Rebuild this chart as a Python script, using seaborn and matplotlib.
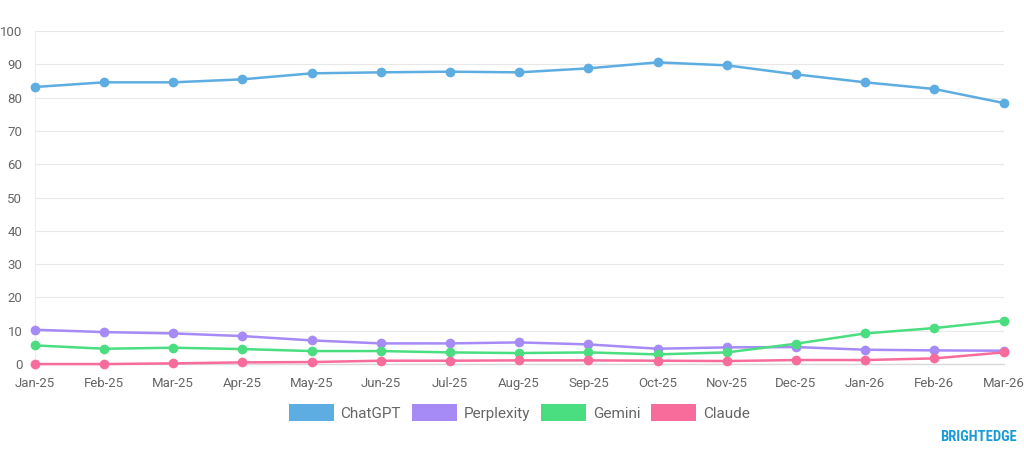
import seaborn as sns
import matplotlib.pyplot as plt
import pandas as pd
from matplotlib.patches import Patch

months = ['Jan-25', 'Feb-25', 'Mar-25', 'Apr-25', 'May-25', 'Jun-25', 'Jul-25', 'Aug-25',
          'Sep-25', 'Oct-25', 'Nov-25', 'Dec-25', 'Jan-26', 'Feb-26', 'Mar-26']
chatgpt = [83.2, 84.6, 84.6, 85.5, 87.3, 87.6, 87.8, 87.6, 88.8, 90.6, 89.7, 87.0, 84.6, 82.6, 78.4]
perplexity = [10.3, 9.6, 9.2, 8.4, 7.1, 6.2, 6.2, 6.5, 5.9, 4.6, 5.0, 5.1, 4.3, 4.1, 4.0]
gemini = [5.6, 4.6, 4.9, 4.5, 3.9, 3.9, 3.5, 3.3, 3.5, 2.9, 3.5, 6.1, 9.2, 10.8, 13.0]
claude = [0.0, 0.0, 0.2, 0.5, 0.6, 1.0, 1.0, 1.1, 1.1, 1.0, 0.9, 1.2, 1.2, 1.7, 3.5]

series = ['ChatGPT', 'Perplexity', 'Gemini', 'Claude']
colors = ['#5DADE2', '#A68AF6', '#4ADE80', '#F76C9A']

df = pd.DataFrame({'month': months * 4,
                   'value': chatgpt + perplexity + gemini + claude,
                   'model': [s for s in series for _ in months]})

sns.set_style('white')
plt.rcParams['font.family'] = ['Roboto', 'DejaVu Sans']

fig = plt.figure(figsize=(10.24, 4.5), dpi=100)
ax = fig.add_axes([0.034, 0.191, 0.946, 0.74])

sns.lineplot(data=df, x='month', y='value', hue='model', palette=colors,
             marker='o', markersize=7, markeredgewidth=0, linewidth=1.8,
             legend=False, ax=ax, clip_on=False, zorder=3)

ax.set_xlim(0, 14)
ax.set_ylim(0, 100)
ax.set_yticks(range(0, 101, 10))
ax.set_xlabel('')
ax.set_ylabel('')
ax.grid(axis='y', color='#e8e8e8', linewidth=0.8)
ax.grid(axis='x', visible=False)
for s in ['top', 'right']:
    ax.spines[s].set_visible(False)
ax.spines['left'].set_color('#ececf4')
ax.spines['left'].set_linewidth(0.8)
ax.spines['bottom'].set_color('#d8d8d8')
ax.spines['bottom'].set_linewidth(1)
ax.tick_params(axis='y', length=6, color='#e8e8e8', labelsize=9.5, labelcolor='#666666', pad=3)
ax.tick_params(axis='x', length=0, labelsize=9.5, labelcolor='#666666', pad=9)

handles = [Patch(facecolor=c, edgecolor='none') for c in colors]
ax.legend(handles, series, loc='upper center', bbox_to_anchor=(0.5, -0.08), ncol=4,
          frameon=False, fontsize=11, handlelength=2.95, handleheight=1.3,
          handletextpad=0.45, columnspacing=0.7, labelcolor='#666666')

fig.text(0.993, 0.028, 'BRIGHTEDGE', ha='right', va='center', color='#1A9AD6',
         fontsize=10.5, fontweight='bold', family=['Roboto Condensed', 'Roboto', 'DejaVu Sans'])

fig.savefig('out.png', dpi=100)
